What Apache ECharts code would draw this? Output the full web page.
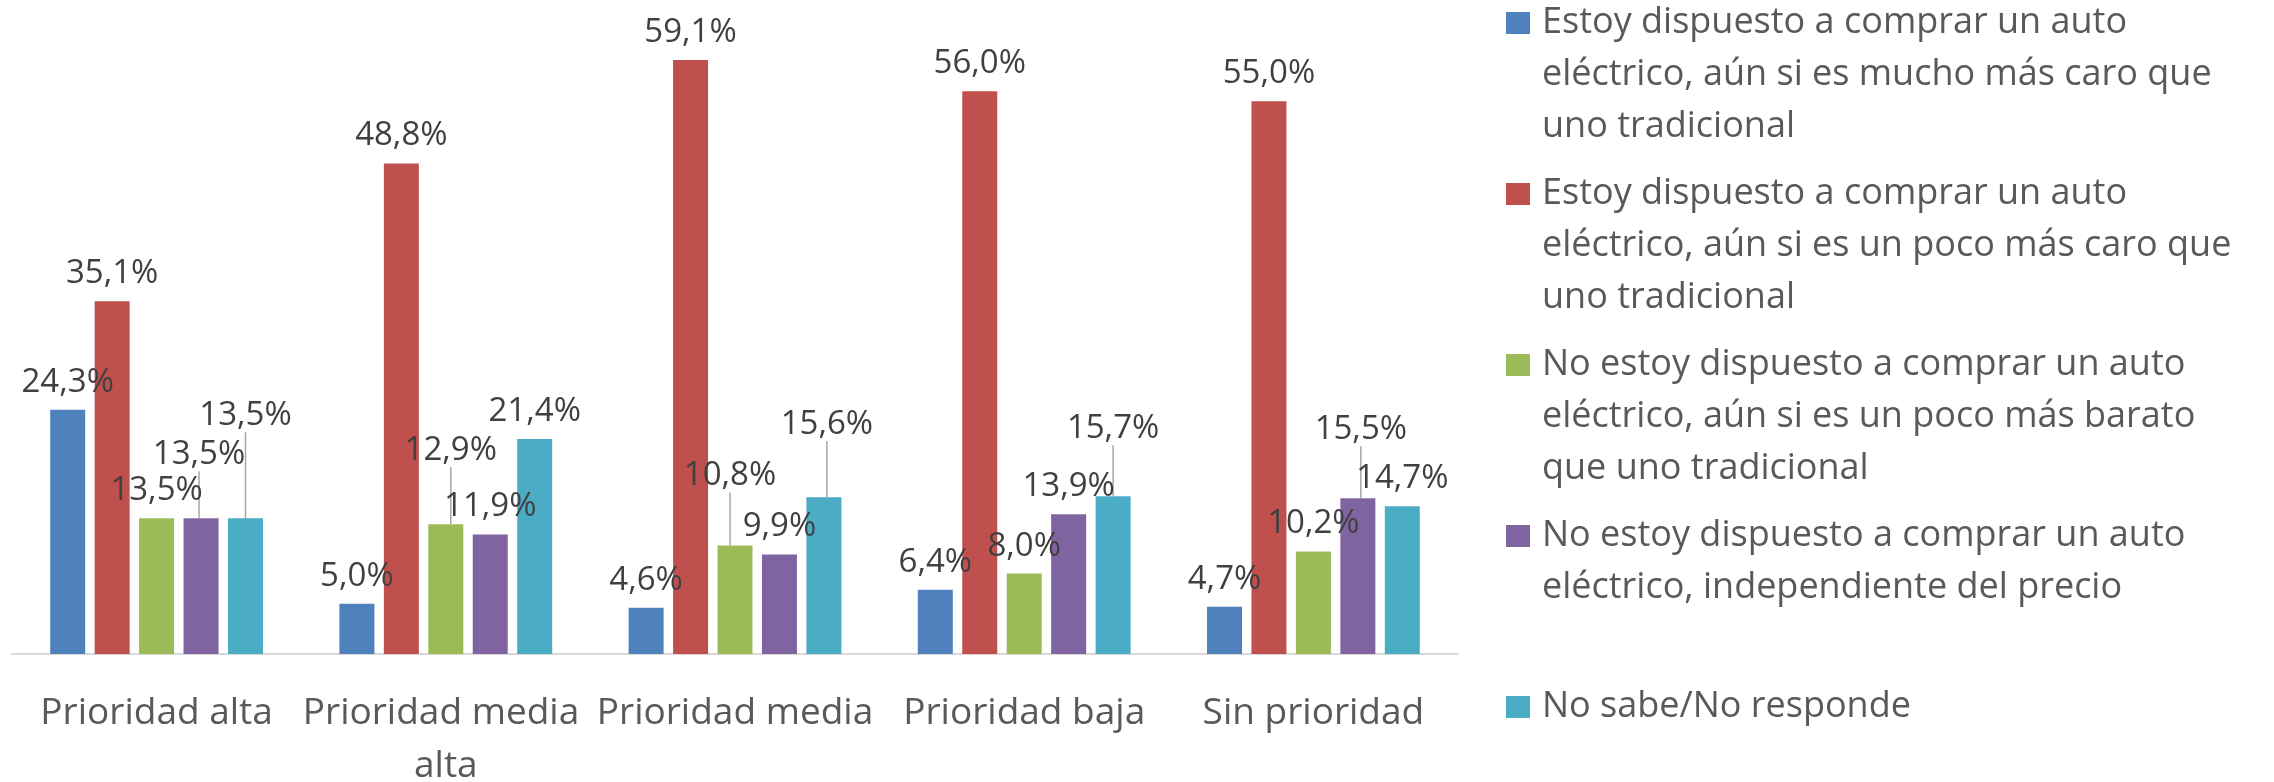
<!DOCTYPE html>
<html>
<head>
<meta charset="utf-8">
<script src="https://cdn.jsdelivr.net/npm/echarts@6/dist/echarts.min.js"></script>
<style>
  html, body { margin: 0; padding: 0; background: #fff; }
  #chart { width: 2274px; height: 782px; }
</style>
</head>
<body>
<div id="chart"></div>
<script>
// categorías del eje x
const categories = ['Prioridad alta', 'Prioridad media alta', 'Prioridad media', 'Prioridad baja', 'Sin prioridad'];

// nombres de las series (con saltos de línea como en la leyenda)
const seriesNames = [
  'Estoy dispuesto a comprar un auto\neléctrico, aún si es mucho más caro que\nuno tradicional',
  'Estoy dispuesto a comprar un auto\neléctrico, aún si es un poco más caro que\nuno tradicional',
  'No estoy dispuesto a comprar un auto\neléctrico, aún si es un poco más barato\nque uno tradicional',
  'No estoy dispuesto a comprar un auto\neléctrico, independiente del precio\n ',
  'No sabe/No responde'
];

// valores (%)
const muchoMasCaro = [24.3, 5.0, 4.6, 6.4, 4.7];
const pocoMasCaro = [35.1, 48.8, 59.1, 56.0, 55.0];
const pocoMasBarato = [13.5, 12.9, 10.8, 8.0, 10.2];
const independiente = [13.5, 11.9, 9.9, 13.9, 15.5];
const noSabe = [13.5, 21.4, 15.6, 15.7, 14.7];

const colors = ['#4f81bd', '#c0504d', '#9bbb59', '#8064a2', '#4bacc6'];

// etiquetas desplazadas (con línea guía), [dx, dy] por serie / categoría
const labelShift = [
  [null, null, null, null, null],
  [null, null, null, null, null],
  [null, [5, -46], [-5, -42], null, null],
  [[-2, -36], null, null, null, [3, -41]],
  [[0, -75], null, [3, -45], [0, -40], null]
];

const values = [muchoMasCaro, pocoMasCaro, pocoMasBarato, independiente, noSabe];
const FONT = '"Open Sans", "DejaVu Sans", sans-serif';

const chart = echarts.init(document.getElementById('chart'));

// estilos rich para la leyenda (cuadro de color en la primera línea)
const legendRich = {
  g: { width: 12, height: 10 },
  ind: { width: 36, height: 10 },
  t: { fontSize: 36, lineHeight: 52, color: '#595959', fontFamily: FONT }
};
colors.forEach((c, i) => {
  legendRich['s' + i] = { width: 24, height: 22, backgroundColor: c, lineHeight: 52 };
});

const series = seriesNames.map((name, i) => ({
  name: name,
  type: 'bar',
  barWidth: 35,
  barGap: '27%',
  itemStyle: { color: colors[i] },
  data: values[i].map((v, j) => ({
    value: v,
    labelLine: { show: !!labelShift[i][j] }
  })),
  label: {
    show: true,
    position: 'top',
    distance: 11,
    fontSize: 33,
    lineHeight: 33,
    fontFamily: FONT,
    color: '#404040',
    formatter: (p) => p.value.toFixed(1).replace('.', ',') + '%'
  },
  labelLine: {
    show: false,
    lineStyle: { color: '#a6a6a6', width: 1.5 }
  },
  labelLayout: (p) => {
    const s = labelShift[i][p.dataIndex];
    return s ? { dx: s[0], dy: s[1] } : {};
  }
}));

const option = {
  backgroundColor: '#fff',
  animation: false,
  grid: {
    left: 12,
    right: 816,
    top: 54,
    bottom: 128,
    containLabel: false,
    outerBoundsMode: 'none'
  },
  legend: {
    orient: 'vertical',
    left: 1496,
    top: -8,
    itemGap: 15,
    itemWidth: 0,
    itemHeight: 0,
    icon: 'rect',
    selectedMode: false,
    data: seriesNames,
    formatter: (name) => {
      const idx = seriesNames.indexOf(name);
      const lines = name.split('\n');
      return lines.map((l, k) => (k === 0 ? '{s' + idx + '|}{g|}' : '{ind|}') + '{t|' + l + '}').join('\n');
    },
    textStyle: {
      fontFamily: FONT,
      fontSize: 36,
      lineHeight: 52,
      color: '#595959',
      rich: legendRich
    }
  },
  xAxis: {
    type: 'category',
    data: categories,
    axisLine: { lineStyle: { color: '#d9d9d9', width: 2 } },
    axisTick: { show: false },
    axisLabel: {
      interval: 0,
      margin: 33,
      fontSize: 37,
      lineHeight: 53,
      fontFamily: FONT,
      color: '#595959',
      width: 289,
      overflow: 'break'
    }
  },
  yAxis: {
    type: 'value',
    min: 0,
    max: 59.7,
    show: false,
    splitLine: { show: false }
  },
  series: series
};

chart.setOption(option);
</script>
</body>
</html>
